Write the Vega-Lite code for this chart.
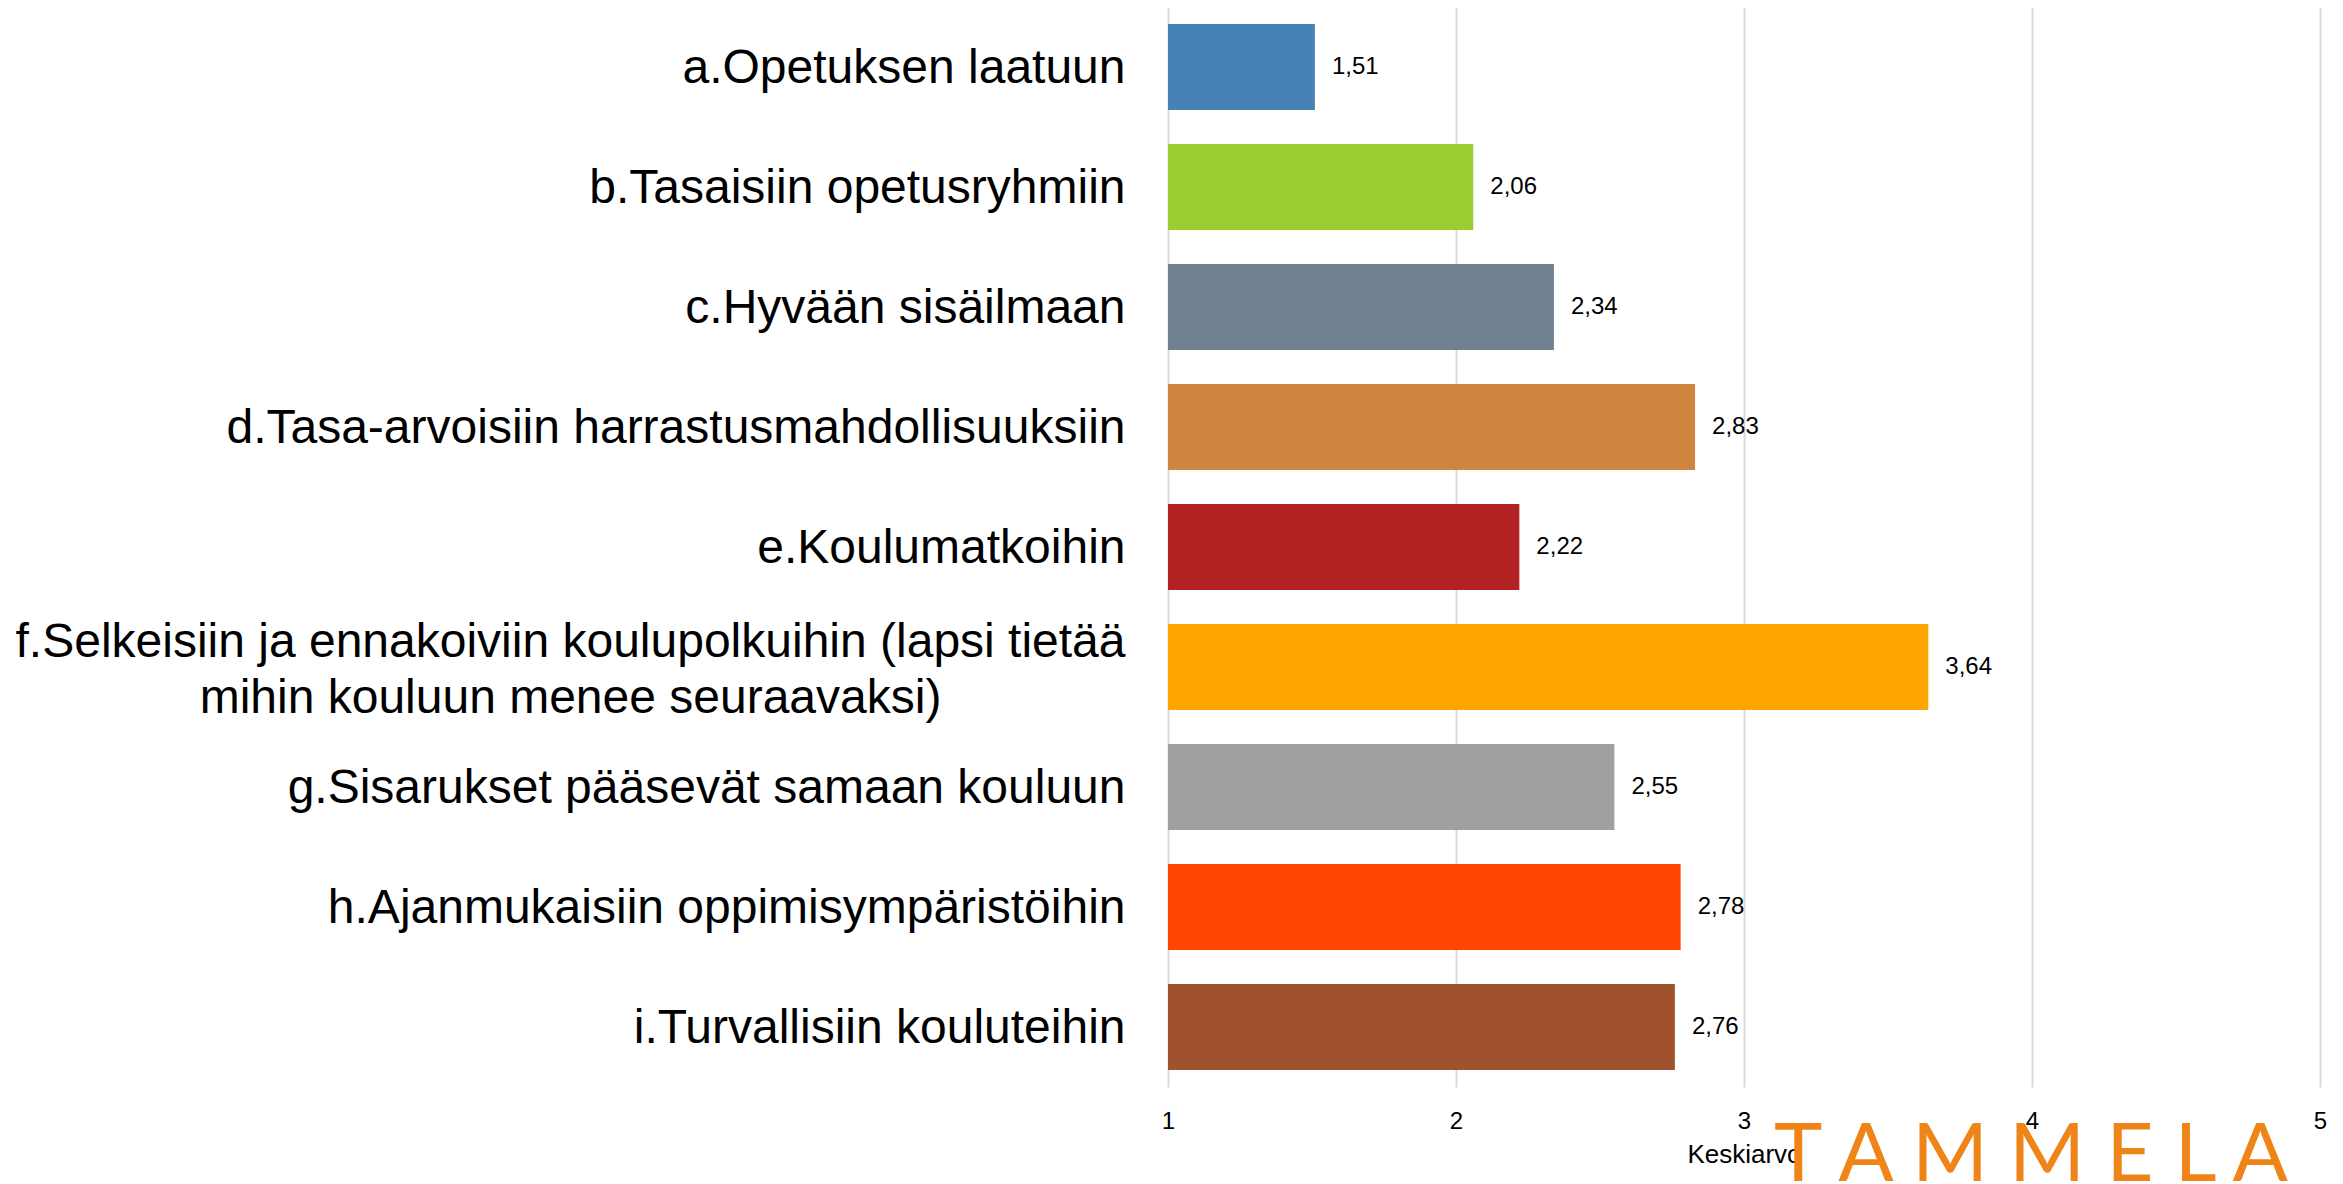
{
  "$schema": "https://vega.github.io/schema/vega-lite/v6.json",
  "autosize": {"type": "none"},
  "padding": {"left": 1168, "top": 7, "right": 23, "bottom": 97},
  "width": 1152,
  "height": 1080,
  "background": "white",
  "config": {
    "view": {"stroke": null},
    "font": "Liberation Sans",
    "locale": {"number": {"decimal": ",", "thousands": " ", "grouping": [3], "currency": ["", " €"]}}
  },
  "title": {
    "text": "T A M M E L A",
    "orient": "bottom",
    "anchor": "end",
    "frame": "group",
    "font": "Lato",
    "fontSize": 82,
    "fontWeight": "normal",
    "color": "#EF8419",
    "baseline": "top",
    "offset": -51,
    "dx": -32
  },
  "data": {
    "values": [
      {"label": "a.Opetuksen laatuun", "key": "a", "value": 1.51},
      {"label": "b.Tasaisiin opetusryhmiin", "key": "b", "value": 2.06},
      {"label": "c.Hyvään sisäilmaan", "key": "c", "value": 2.34},
      {"label": "d.Tasa-arvoisiin harrastusmahdollisuuksiin", "key": "d", "value": 2.83},
      {"label": "e.Koulumatkoihin", "key": "e", "value": 2.22},
      {"label": "f.Selkeisiin ja ennakoiviin koulupolkuihin (lapsi tietää|mihin kouluun menee seuraavaksi)", "key": "f", "value": 3.64},
      {"label": "g.Sisarukset pääsevät samaan kouluun", "key": "g", "value": 2.55},
      {"label": "h.Ajanmukaisiin oppimisympäristöihin", "key": "h", "value": 2.78},
      {"label": "i.Turvallisiin kouluteihin", "key": "i", "value": 2.76}
    ]
  },
  "encoding": {
    "y": {
      "field": "label",
      "type": "nominal",
      "sort": null,
      "scale": {"paddingInner": 0.283, "paddingOuter": 0.1415},
      "axis": {
        "title": null,
        "labelExpr": "split(datum.label, '|')",
        "labelFontSize": 48,
        "labelColor": "#000000",
        "labelLineHeight": 56,
        "labelAlign": {"condition": {"test": "indexof(datum.value, '|') >= 0", "value": "center"}, "value": "right"},
        "labelPadding": {"condition": {"test": "indexof(datum.value, '|') >= 0", "value": 598}, "value": 43},
        "labelOffset": {"condition": {"test": "indexof(datum.value, '|') >= 0", "value": -24}, "value": 2},
        "labelLimit": 3000,
        "ticks": false,
        "domain": false,
        "grid": false
      }
    },
    "x": {
      "field": "value",
      "type": "quantitative",
      "scale": {"domain": [1, 5], "zero": false, "nice": false},
      "axis": {
        "values": [1, 2, 3, 4, 5],
        "format": "d",
        "title": "Keskiarvo",
        "titleFontSize": 26,
        "titleFontWeight": "normal",
        "titleColor": "#000000",
        "titlePadding": 8,
        "labelFontSize": 24,
        "labelColor": "#000000",
        "labelPadding": 22,
        "labelFlush": false,
        "labelOverlap": false,
        "ticks": false,
        "domain": false,
        "grid": true,
        "gridColor": "#D9D9D9",
        "gridWidth": 2
      }
    }
  },
  "layer": [
    {
      "mark": {"type": "bar"},
      "encoding": {
        "x2": {"datum": 1},
        "color": {
          "field": "key",
          "type": "nominal",
          "legend": null,
          "scale": {
            "domain": ["a", "b", "c", "d", "e", "f", "g", "h", "i"],
            "range": ["#4682B4", "#9ACD32", "#708090", "#CD853F", "#B22222", "#FFA500", "#A0A0A0", "#FF4500", "#A0522D"]
          }
        }
      }
    },
    {
      "mark": {"type": "text", "align": "left", "baseline": "middle", "dx": 17, "fontSize": 24, "color": "#000000"},
      "encoding": {
        "text": {"field": "value", "type": "quantitative", "format": ".2f"}
      }
    }
  ]
}
